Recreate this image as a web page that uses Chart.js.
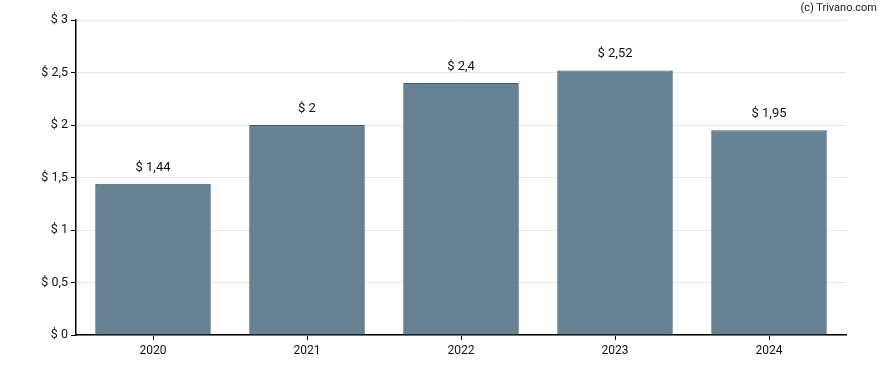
<!DOCTYPE html>
<html>
<head>
<meta charset="utf-8">
<script src="https://cdn.jsdelivr.net/npm/chart.js@4/dist/chart.umd.min.js"></script>
<style>
  html, body { margin: 0; padding: 0; background: #fff; }
  #wrap { position: relative; width: 888px; height: 370px; }
  #credit { position: absolute; right: 11px; top: 1px; font: 11px Roboto, sans-serif; color: #222; }
</style>
</head>
<body>
<div id="wrap">
  <canvas id="bar-chart" width="888" height="370"></canvas>
  <div id="credit">(c) Trivano.com</div>
</div>
<script>
// dividend per year
const years = ["2020", "2021", "2022", "2023", "2024"];
const dividends = [1.44, 2, 2.4, 2.52, 1.95];
const yTicks = [0, 0.5, 1, 1.5, 2, 2.5, 3];

function dollar(v) {
  return "$ " + String(v).replace(".", ",");
}

// draws the value above each bar
const valueLabels = {
  id: "valueLabels",
  afterDatasetsDraw(chart) {
    const ctx = chart.ctx;
    const meta = chart.getDatasetMeta(0);
    ctx.save();
    ctx.font = "13px Roboto, sans-serif";
    ctx.fillStyle = "#111";
    ctx.textAlign = "center";
    ctx.textBaseline = "alphabetic";
    meta.data.forEach(function(bar, i) {
      ctx.fillText(dollar(dividends[i]), bar.x, bar.y - 13);
    });
    ctx.restore();
  }
};

const ctx = document.getElementById("bar-chart").getContext("2d");
new Chart(ctx, {
  type: "bar",
  data: {
    labels: years,
    datasets: [{
      data: dividends,
      backgroundColor: "rgb(102, 130, 147)",
      borderColor: "rgb(62, 86, 106)",
      borderWidth: { top: 1, left: 1.5, right: 1.5, bottom: 0 },
      borderSkipped: "bottom",
      barPercentage: 0.75,
      categoryPercentage: 1
    }]
  },
  options: {
    responsive: false,
    animation: false,
    layout: { padding: { top: 20, right: 42, left: 0, bottom: 0 } },
    plugins: {
      legend: { display: false },
      tooltip: { enabled: false }
    },
    scales: {
      x: {
        grid: {
          display: true,
          drawOnChartArea: false,
          drawTicks: true,
          tickLength: 5,
          color: "#000",
          offset: false
        },
        border: { color: "#000", width: 1.5 },
        ticks: {
          color: "#111",
          font: { family: "Roboto", size: 12 },
          padding: 4
        },
        afterFit(scale) { scale.height = 35; }
      },
      y: {
        min: 0,
        max: 3,
        afterBuildTicks(scale) {
          scale.ticks = yTicks.map(v => ({ value: v }));
        },
        grid: {
          color: "#e6e6e6",
          tickColor: "#000",
          tickLength: 5,
          lineWidth: 1
        },
        border: { color: "#000", width: 1.5 },
        ticks: {
          color: "#111",
          font: { family: "Roboto", size: 12.5 },
          padding: 3,
          callback: v => dollar(v)
        },
        afterFit(scale) { scale.width = 76; }
      }
    }
  },
  plugins: [valueLabels]
});
</script>
</body>
</html>
